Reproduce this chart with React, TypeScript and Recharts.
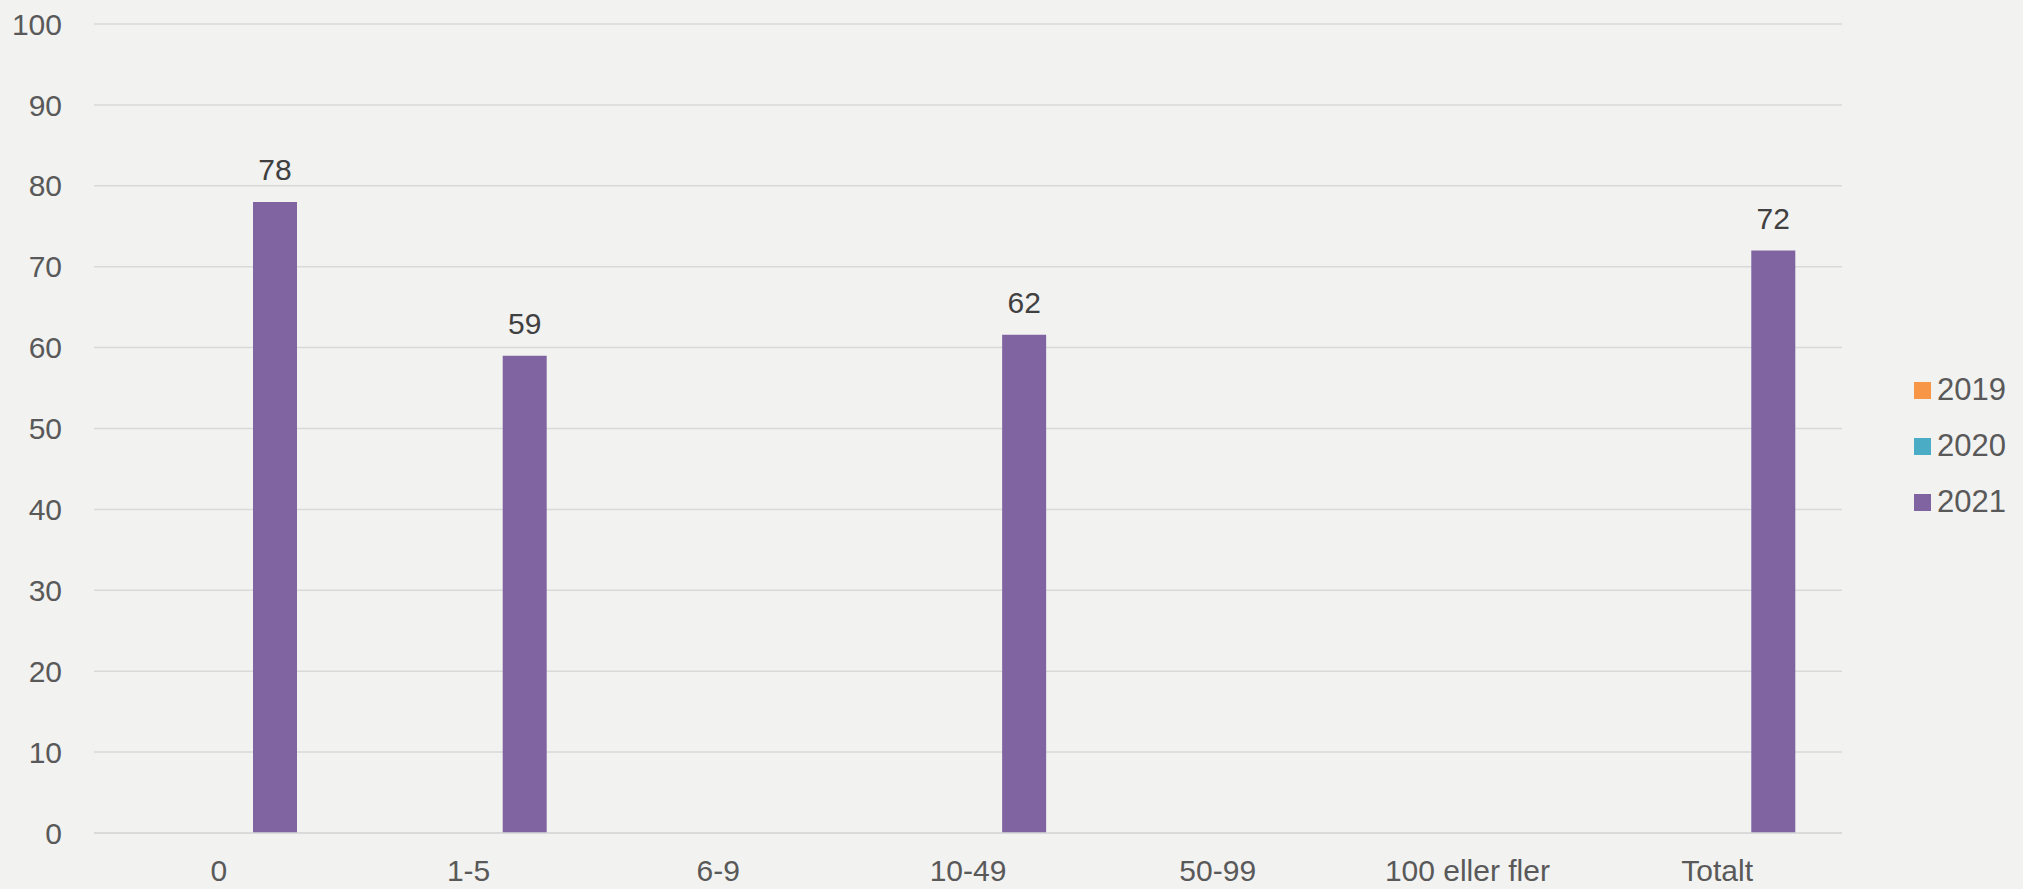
import React from 'react';
import { BarChart, Bar, XAxis, YAxis, CartesianGrid, LabelList } from 'recharts';

const categories = ['0', '1-5', '6-9', '10-49', '50-99', '100 eller fler', 'Totalt'];
const series2019: (number | null)[] = [null, null, null, null, null, null, null];
const series2020: (number | null)[] = [null, null, null, null, null, null, null];
const series2021: (number | null)[] = [78, 59, null, 61.6, null, null, 72];
const yTicks = [0, 10, 20, 30, 40, 50, 60, 70, 80, 90, 100];
const seriesNames = ['2019', '2020', '2021'];
const colors = ['#f79646', '#4bacc6', '#8064a2'];

const data = categories.map((c, i) => ({
  cat: c,
  y2019: series2019[i],
  y2020: series2020[i],
  y2021: series2021[i],
}));

const FONT = '"Liberation Sans", Arial, sans-serif';

export default function App() {
  return (
    <div style={{ position: 'relative', width: 2023, height: 889, background: '#f2f2f1', fontFamily: FONT }}>
      <style>{`body{margin:0;background:#f2f2f1;}`}</style>
      <BarChart
        width={2023}
        height={889}
        data={data}
        margin={{ top: 24, right: 181, bottom: 0, left: 0 }}
        barSize={44}
        barGap={12}
      >
        <CartesianGrid vertical={false} stroke="#d9d9d9" strokeWidth={1.5} />
        <XAxis
          dataKey="cat"
          height={56}
          tickLine={false}
          tickSize={0}
          tickMargin={27}
          axisLine={{ stroke: '#d9d9d9', strokeWidth: 1.5 }}
          tick={{ fill: '#595959', fontSize: 30, fontFamily: FONT }}
          interval={0}
        />
        <YAxis
          width={94}
          domain={[0, 100]}
          ticks={yTicks}
          tickLine={false}
          tickSize={0}
          tickMargin={32}
          axisLine={false}
          tick={{ fill: '#595959', fontSize: 30, fontFamily: FONT }}
        />
        <Bar dataKey="y2019" name={seriesNames[0]} fill={colors[0]} isAnimationActive={false} />
        <Bar dataKey="y2020" name={seriesNames[1]} fill={colors[1]} isAnimationActive={false} />
        <Bar dataKey="y2021" name={seriesNames[2]} fill={colors[2]} isAnimationActive={false}>
          <LabelList
            dataKey="y2021"
            position="top"
            offset={22}
            formatter={(v: any) => (v == null ? '' : Math.round(Number(v)))}
            style={{ fill: '#404040', fontSize: 30, fontFamily: FONT }}
          />
        </Bar>
      </BarChart>
      <div style={{ position: 'absolute', left: 1914, top: 362 }}>
        {seriesNames.map((n, i) => (
          <div key={n} style={{ display: 'flex', alignItems: 'center', height: 56 }}>
            <div style={{ width: 17, height: 17, background: colors[i], marginRight: 6 }} />
            <span style={{ fontSize: 31, color: '#595959', lineHeight: '40px' }}>{n}</span>
          </div>
        ))}
      </div>
    </div>
  );
}
